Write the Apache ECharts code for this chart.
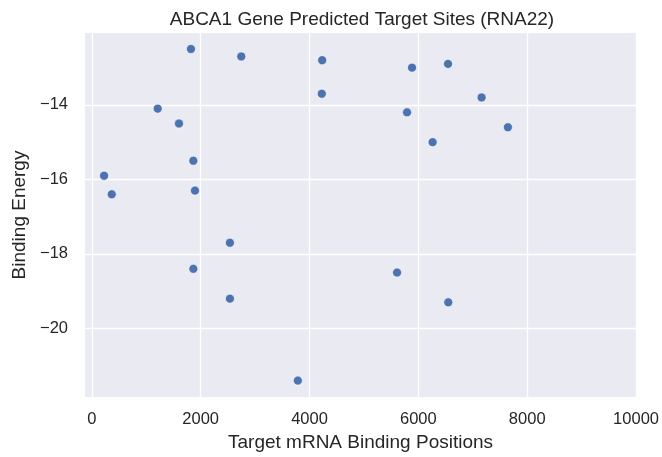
<!DOCTYPE html>
<html>
<head>
<meta charset="utf-8">
<script src="https://cdn.jsdelivr.net/npm/echarts@6/dist/echarts.min.js"></script>
<style>
  html, body { margin: 0; padding: 0; background: #fff; }
  #chart { width: 662px; height: 457px; }
</style>
</head>
<body>
<div id="chart"></div>
<script>
// target site positions (x) and their binding energies (y)
const positions = [1822, 2746, 4233, 4226, 1211, 1602, 1866, 226, 367, 1896, 2538,
                   1866, 2538, 3786, 5884, 6545, 7162, 5792, 7645, 6262, 5609, 6550];
const energies = [-12.5, -12.7, -12.8, -13.7, -14.1, -14.5, -15.5, -15.9, -16.4, -16.3, -17.7,
                  -18.4, -19.2, -21.4, -13.0, -12.9, -13.8, -14.2, -14.6, -15.0, -18.5, -19.3];

const titleText = 'ABCA1 Gene Predicted Target Sites (RNA22)';
const xName = 'Target mRNA Binding Positions';
const yName = 'Binding Energy';

const points = positions.map((p, i) => [p, energies[i]]);

var chartDom = document.getElementById('chart');
var myChart = echarts.init(chartDom, null, { renderer: 'canvas' });
var font = 'Liberation Sans, Arial, sans-serif';

var option = {
    animation: false,
    title: {
        text: titleText,
        left: 357,
        top: 5,
        textAlign: 'center',
        textStyle: { fontFamily: font, fontSize: 19, fontWeight: 'normal', color: '#262626' }
    },
    grid: {
        left: 85,
        right: 25,
        top: 33,
        bottom: 60,
        show: true,
        backgroundColor: '#eaeaf2',
        borderWidth: 0
    },
    xAxis: {
        type: 'value',
        min: -125,
        max: 10000,
        splitNumber: 5,
        name: xName,
        nameLocation: 'middle',
        nameGap: 35,
        nameTextStyle: { fontFamily: font, fontSize: 19, color: '#262626' },
        axisLine: { show: false },
        axisTick: { show: false },
        axisLabel: {
            showMinLabel: false,
            margin: 14,
            fontFamily: font,
            fontSize: 16.5,
            color: '#262626',
            formatter: function (v) { return v % 2000 === 0 ? String(v) : ''; }
        },
        splitLine: { show: true, showMinLine: false, lineStyle: { color: '#ffffff', width: 1.3 } }
    },
    yAxis: {
        type: 'value',
        min: -21.84,
        max: -12.07,
        splitNumber: 5,
        name: yName,
        nameLocation: 'middle',
        nameGap: 50,
        nameTextStyle: { fontFamily: font, fontSize: 19, color: '#262626' },
        axisLine: { show: false },
        axisTick: { show: false },
        axisLabel: {
            showMinLabel: false,
            showMaxLabel: false,
            margin: 17,
            fontFamily: font,
            fontSize: 16.5,
            color: '#262626',
            formatter: function (v) {
                return Number.isInteger(v) ? String(v).replace('-', '\u2212') : '';
            }
        },
        splitLine: { show: true, showMinLine: false, showMaxLine: false, lineStyle: { color: '#ffffff', width: 1.3 } }
    },
    series: [
        {
            type: 'scatter',
            data: points,
            symbolSize: 9,
            itemStyle: { color: '#4c72b0', opacity: 1, borderColor: '#ffffff', borderWidth: 0.6 }
        }
    ]
};
myChart.setOption(option);
</script>
</body>
</html>
